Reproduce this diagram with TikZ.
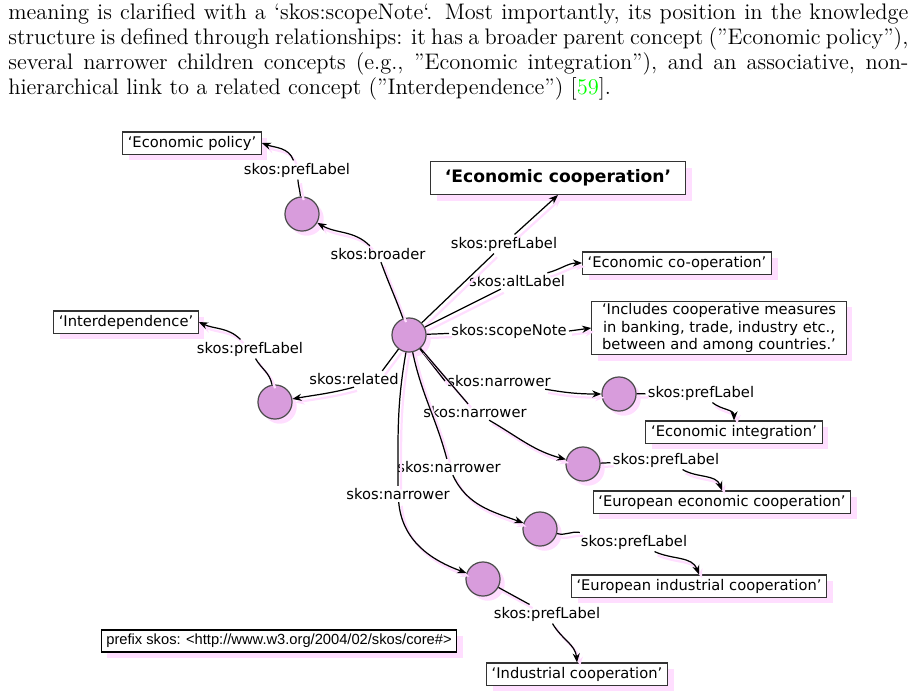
\documentclass[tikz,border=0pt]{standalone}
\usepackage{fontspec}
\newfontfamily\diagfont{DejaVu Sans}
\newfontfamily\prefixfont{Liberation Sans}
\usepackage{xcolor}
\usetikzlibrary{arrows.meta, shadows, calc}
\definecolor{conceptfill}{RGB}{216,156,220}
\definecolor{shadowpink}{RGB}{255,222,255}
\definecolor{citegreen}{RGB}{0,255,0}

\begin{document}
\begin{tikzpicture}[
    x=0.49pt, y=-0.49pt,
    concept/.style={draw=black!70, circle, fill=conceptfill, minimum size=16.7pt, inner sep=0pt, line width=0.6pt,
        drop shadow={shadow xshift=2.3pt, shadow yshift=-2.3pt, fill=shadowpink, opacity=1}},
    literal/.style={draw=black!80, rectangle, fill=white, inner xsep=2.5pt, inner ysep=1pt, minimum height=10.8pt, line width=0.5pt,
        font=\diagfont\fontsize{7.2}{8.6}\selectfont,
        drop shadow={shadow xshift=3pt, shadow yshift=-3pt, fill=shadowpink, opacity=1}},
    title/.style={font=\diagfont\bfseries\fontsize{8.4}{10}\selectfont, inner xsep=7pt, inner ysep=4pt},
    prefixbox/.style={font=\prefixfont\fontsize{7.2}{8.6}\selectfont, line width=0.7pt, draw=black},
    rel/.style={font=\diagfont\fontsize{7.2}{8.6}\selectfont, inner sep=1pt},
    link/.style={line width=0.6pt, preaction={draw=shadowpink, line width=1.1pt, transform canvas={shift={(1.5pt,-1.8pt)}}}},
    arrow/.style={link, -{Stealth[length=4.5pt, width=3.5pt]}}
]
\useasboundingbox (0,0) rectangle (914,698);

% running text above the figure
\node[anchor=north west, text width=441pt, align=justify, inner sep=0pt, font=\fontsize{11}{12.3}\selectfont] (para) at (8,3)
    {meaning is clarified with a \textquoteleft skos:scopeNote\textquoteleft. Most importantly, its position in the knowledge\linebreak
    structure is defined through relationships: it has a broader parent concept (\textquotedblright Economic policy\textquotedblright),\linebreak
    several narrower children concepts (e.g., \textquotedblright Economic integration\textquotedblright), and an associative, non-\linebreak
    hierarchical link to a related concept (\textquotedblright Interdependence\textquotedblright) [\textcolor{citegreen}{59}].};

% concepts
\node[concept] (eco) at (409,335) {};
\node[concept] (pol) at (302,214) {};
\node[concept] (dep) at (275,402) {};
\node[concept] (nar1) at (619,394) {};
\node[concept] (nar2) at (583,464) {};
\node[concept] (nar3) at (540,529) {};
\node[concept] (nar4) at (483,579) {};

% literals
\node[literal] (polLit) at (192,143) {‘Economic policy’};
\node[literal, title] (ecoLit) at (558,178) {‘Economic cooperation’};
\node[literal] (altLit) at (677,263) {‘Economic co-operation’};
\node[literal, align=center, inner xsep=5pt] (noteLit) at (719,328) {‘Includes cooperative measures\\in banking, trade, industry etc.,\\between and among countries.’};
\node[literal] (depLit) at (126,322) {‘Interdependence’};
\node[literal] (intLit) at (734,432) {‘Economic integration’};
\node[literal] (eurEcoLit) at (722,502) {‘European economic cooperation’};
\node[literal] (eurIndLit) at (699,586) {‘European industrial cooperation’};
\node[literal] (indLit) at (577,674) {‘Industrial cooperation’};
\node[literal, prefixbox] (prefixLit) at (279,641) {prefix skos: <http://www.w3.org/2004/02/skos/core\#>};

% properties
\node[rel] (polPref) at (297,170) {skos:prefLabel};
\node[rel] (broader) at (378,254) {skos:broader};
\node[rel] (ecoPref) at (504,244) {skos:prefLabel};
\node[rel] (alt) at (517,281) {skos:altLabel};
\node[rel] (note) at (509,331) {skos:scopeNote};
\node[rel] (depPref) at (250,349) {skos:prefLabel};
\node[rel] (related) at (354,379) {skos:related};
\node[rel] (narrow1) at (499,381) {skos:narrower};
\node[rel] (narrow2) at (475,412) {skos:narrower};
\node[rel] (narrow3) at (449,467) {skos:narrower};
\node[rel] (narrow4) at (398,494) {skos:narrower};
\node[rel] (intPref) at (701,393) {skos:prefLabel};
\node[rel] (eurEcoPref) at (666,460) {skos:prefLabel};
\node[rel] (eurIndPref) at (634,542) {skos:prefLabel};
\node[rel] (indPref) at (547,614) {skos:prefLabel};

\draw[link] (eco) to[out=110, in=-70] (broader);
\draw[arrow] (broader) to[out=135, in=-30] (pol);
\draw[link] (pol) to[out=95, in=-85] (polPref);
\draw[arrow] (polPref) to[out=110, in=-20] (polLit.east);
\draw[link] (eco) -- (ecoPref);
\draw[arrow] (ecoPref) -- (ecoLit.south);
\draw[link] (eco) -- (alt);
\draw[arrow] (alt) to[out=15, in=180] (altLit.west);
\draw[link] (eco) -- (note);
\draw[arrow] (note.east) -- (noteLit.west);
\draw[link] (dep) to[out=100, in=-60] (depPref);
\draw[arrow] (depPref) to[out=135, in=-25] (depLit.east);
\draw[link] (eco) -- ($(related.north)!0.6!(related.north east)$);
\draw[arrow] (related.south) to[out=-165, in=10] (dep);
\draw[link] (eco) -- (narrow1.west);
\draw[arrow] (narrow1) to[out=-10, in=180] (nar1);
\draw[link] (eco) -- (narrow2);
\draw[arrow] (narrow2) to[out=-30, in=165] (nar2);
\draw[link] (eco) to[out=-78, in=105] (narrow3);
\draw[arrow] (narrow3) to[out=-65, in=160] (nar3);
\draw[link] (eco) to[out=-100, in=90] (narrow4);
\draw[arrow] (narrow4) to[out=-85, in=160] (nar4);
\draw[link] (nar1) -- (intPref);
\draw[arrow] (intPref) to[out=-40, in=90] (intLit.north);
\draw[link] (nar2) -- (eurEcoPref);
\draw[arrow] (eurEcoPref) to[out=-30, in=110] (eurEcoLit.north);
\draw[link] (nar3) to[out=-15, in=170] (eurIndPref);
\draw[arrow] (eurIndPref) to[out=-25, in=110] (eurIndLit.north);
\draw[link] (nar4) -- (indPref);
\draw[arrow] (indPref) to[out=-60, in=95] (indLit.north);
\end{tikzpicture}
\end{document}
